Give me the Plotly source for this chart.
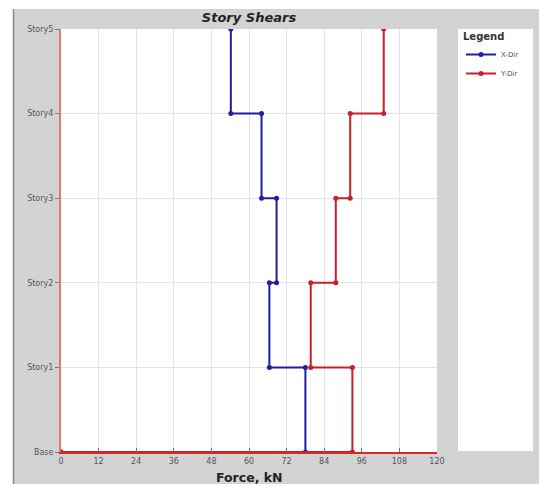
import plotly.graph_objects as go

stories = ["Base", "Story1", "Story2", "Story3", "Story4", "Story5"]
# story shear per story (Story1..Story5), kN
x_dir = [78.0, 66.5, 68.8, 64.0, 54.2]
y_dir = [93.0, 79.7, 87.7, 92.3, 103.0]
x_ticks = [0, 12, 24, 36, 48, 60, 72, 84, 96, 108, 120]


def step_path(vals):
    xs, ys = [], []
    n = len(vals)
    for i in range(n - 1, -1, -1):
        xs += [vals[i], vals[i]]
        ys += [i + 1, i]
    xs.append(0)
    ys.append(0)
    return xs, ys


fig = go.Figure()
bx, by = step_path(x_dir)
rx, ry = step_path(y_dir)
fig.add_trace(go.Scatter(x=bx, y=by, mode="lines+markers", name="X-Dir",
                         line=dict(color="#1f1fa0", width=2),
                         marker=dict(color="#1f1fa0", size=5)))
fig.add_trace(go.Scatter(x=rx, y=ry, mode="lines+markers", name="Y-Dir",
                         line=dict(color="#c8202a", width=2),
                         marker=dict(color="#c8202a", size=5)))

W, H = 539, 486
L, R, T, B = 61, 437, 29, 452
pw, ph = R - L, B - T


def px(xp):
    return (xp - L) / pw


def py(yp):
    return (B - yp) / ph


FONT = "DejaVu Sans, Verdana, sans-serif"

shapes = [
    dict(type="rect", xref="paper", yref="paper", x0=px(13), x1=px(545), y0=py(484), y1=py(9),
         fillcolor="#d3d3d3", line=dict(width=0), layer="below"),
    dict(type="line", xref="paper", yref="paper", x0=px(13.5), x1=px(13.5), y0=py(484), y1=py(9),
         line=dict(color="#8a8a8a", width=1.5), layer="below"),
    dict(type="rect", xref="paper", yref="paper", x0=px(458), x1=px(533), y0=py(451), y1=py(29),
         fillcolor="white", line=dict(width=0), layer="below"),
    dict(type="rect", xref="paper", yref="paper", x0=0, x1=1, y0=0, y1=1,
         fillcolor="white", line=dict(width=0), layer="below"),
]

fig.update_layout(
    width=W, height=H,
    margin=dict(l=L, r=W - R, t=T, b=H - B),
    paper_bgcolor="white", plot_bgcolor="rgba(0,0,0,0)",
    font=dict(family=FONT, color="#444", size=8),
    shapes=shapes,
    showlegend=True,
    legend=dict(x=px(461), y=py(27), xanchor="left", yanchor="top",
                bgcolor="rgba(0,0,0,0)", font=dict(size=7, color="#555"),
                title=dict(text="<b>Legend</b>", font=dict(size=10, color="#333")),
                itemwidth=30, tracegroupgap=0),
    title=dict(text="<b><i>Story Shears</i></b>", x=0.5, xref="paper",
               y=1 - 17 / H, yref="container", yanchor="middle", xanchor="center",
               font=dict(size=13, color="#222", family=FONT)),
    annotations=[dict(text="<b>Force, kN</b>", xref="paper", yref="paper",
                      x=0.5, y=py(477), showarrow=False, yanchor="middle",
                      font=dict(size=12.5, color="#222", family=FONT))],
)
fig.update_xaxes(range=[0, 120], tickvals=x_ticks, ticktext=[str(t) for t in x_ticks],
                 showgrid=True, gridcolor="#e4e4e4", gridwidth=1, zeroline=False,
                 showline=True, linecolor="#d42a2a", linewidth=2,
                 ticks="inside", ticklen=4, tickcolor="#777",
                 tickfont=dict(size=8, color="#555"))
fig.update_yaxes(range=[0, 5], tickvals=list(range(6)), ticktext=stories,
                 showgrid=True, gridcolor="#e4e4e4", gridwidth=1, zeroline=False,
                 showline=True, linecolor="#e07a7a", linewidth=2,
                 ticks="outside", ticklen=4, tickcolor="#777",
                 tickfont=dict(size=8, color="#555"))

fig.write_html("out.html")
